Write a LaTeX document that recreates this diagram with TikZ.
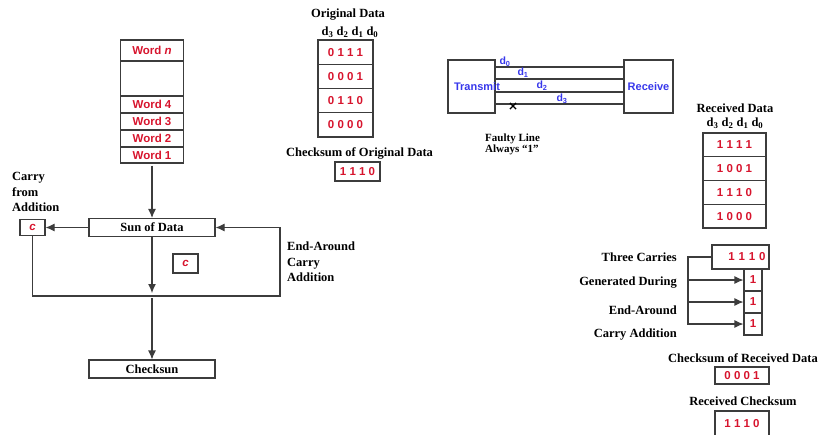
\documentclass[tikz,border=0pt]{standalone}
\usepackage{fontspec}
\setmainfont{Liberation Serif}
\newfontfamily\arialfont{Liberation Sans}
\usetikzlibrary{arrows.meta,shapes.misc}

\definecolor{dred}{RGB}{215,20,45}
\definecolor{dblue}{RGB}{55,55,235}
\definecolor{edgegray}{RGB}{60,60,60}

\tikzset{
  box/.style={draw=edgegray,line width=1.1pt,rectangle,inner sep=0pt},
  wordbox/.style={box,minimum width=63pt,text=dred,font=\arialfont\bfseries\fontsize{11.5}{13}\selectfont},
  lbl/.style={font=\bfseries\fontsize{12.5}{15.5}\selectfont,inner sep=0pt},
  bluelbl/.style={text=dblue,inner sep=0pt,font=\arialfont\bfseries\fontsize{11}{13}\selectfont},
  dlbl/.style={text=dblue,inner sep=0pt,font=\arialfont\bfseries\fontsize{10.5}{12}\selectfont},
  wire/.style={draw=edgegray,line width=1.1pt},
  arr/.style={wire,-{Latex[length=9pt,width=8pt]}},
}

\begin{document}
\begin{tikzpicture}[x=1pt,y=-1pt]
\useasboundingbox (0,0) rectangle (821,434);
\clip (0,0) rectangle (821,434);

% words to be added
\node[wordbox,minimum height=21pt] (wn) at (152,50.5) {Word \textit{n}};
\node[wordbox,minimum height=35pt] (wgap) at (152,78.5) {};
\node[wordbox,minimum height=17pt] (w4) at (152,104.5) {Word 4};
\node[wordbox,minimum height=17pt] (w3) at (152,121.5) {Word 3};
\node[wordbox,minimum height=17pt] (w2) at (152,138.5) {Word 2};
\node[wordbox,minimum height=16pt] (w1) at (152,155) {Word 1};

\node[box,lbl,minimum width=126pt,minimum height=18pt] (sum) at (152,227.5) {Sun of Data};
\node[wordbox,minimum width=25pt,minimum height=16pt] (cl) at (32.5,227.5) {\textit{c}};
\node[wordbox,minimum width=25pt,minimum height=19pt] (cm) at (185.5,263.5) {\textit{c}};
\node[box,lbl,minimum width=126pt,minimum height=18pt] (chk) at (152,369) {Checksun};

\node[lbl,anchor=west,align=left] (carrylbl) at (12,192) {Carry\\from\\Addition};
\node[lbl,anchor=west,align=left] (eacalbl) at (287,262) {End-Around\\Carry\\Addition};

\coordinate (jm) at (152,296);
\coordinate (jr) at (280,296);

\draw [arr,shorten <=2pt] (w1) -- (sum);
\draw [arr] (sum) -- (cl);
\draw [arr] (cl) |- (jr) |- (sum);
\draw [arr,shorten >=3pt] (sum) -- (jm);
\draw [arr,shorten <=2pt] (jm) -- (chk);

% original data
\node[lbl] (odtitle) at (348,15) {Original Data};
\node[lbl] (odbits) at (350,32) {d\textsubscript{3} d\textsubscript{2} d\textsubscript{1} d\textsubscript{0}};
\foreach \b [count=\i] in {0 1 1 1,0 0 0 1,0 1 1 0,0 0 0 0}
  \node[wordbox,minimum width=55pt,minimum height=24.25pt] (od\i) at (345.5,{27.875+24.25*\i}) {\b};
\node[lbl] (ocklbl) at (359.5,153) {Checksum of Original Data};
\node[wordbox,minimum width=45pt,minimum height=19pt] (ock) at (357.5,171.5) {1 1 1 0};

% the link
\node[box,minimum width=47pt,minimum height=53pt] (tx) at (471.5,86.5) {};
\node[bluelbl] (txlbl) at (477,87) {Transmit};
\node[box,bluelbl,minimum width=49pt,minimum height=53pt] (rx) at (648.5,86.5) {Receive};
\foreach \y in {67,79,92,104}
  \draw[wire] (tx.east |- 0,\y) -- (rx.west |- 0,\y);
\node[dlbl] (d0) at (505,62) {d\textsubscript{0}};
\node[dlbl] (d1) at (523,73) {d\textsubscript{1}};
\node[dlbl] (d2) at (542,86) {d\textsubscript{2}};
\node[dlbl] (d3) at (562,99) {d\textsubscript{3}};
\node[cross out,draw=black,line width=1.2pt,minimum size=5pt,inner sep=0pt] (fault) at (513,106) {};
\node[lbl,font=\bfseries\fontsize{11}{11}\selectfont,anchor=west,align=left] (faultlbl) at (485,144) {Faulty Line\\Always ``1''};

% received data
\node[lbl] (rdtitle) at (735,108) {Received Data};
\node[lbl] (rdbits) at (735,123) {d\textsubscript{3} d\textsubscript{2} d\textsubscript{1} d\textsubscript{0}};
\foreach \b [count=\i] in {1 1 1 1,1 0 0 1,1 1 1 0,1 0 0 0}
  \node[wordbox,minimum width=63pt,minimum height=23.75pt] (rd\i) at (734.5,{121.125+23.75*\i}) {\b};

% carries
\node[lbl,anchor=east] (tc1) at (677,257) {Three Carries};
\node[lbl,anchor=east] (tc2) at (677,283) {Generated During};
\node[lbl,anchor=east] (tc3) at (677,310) {End-Around};
\node[lbl,anchor=east] (tc4) at (677,335) {Carry Addition};
\node[wordbox,minimum width=57pt,minimum height=24pt,text width=50pt,align=right] (cs) at (740.5,257) {1 1 1 0};
\foreach \i/\y in {1/280,2/302,3/324}
  \node[wordbox,minimum width=18pt,minimum height=22pt] (one\i) at (753,\y) {1};
\coordinate (brk) at (688,324);
\draw [arr] (cs) -| (brk) -- (one3);
\foreach \i in {1,2}
  \draw [arr] (brk |- one\i) -- (one\i);

\node[lbl] (rcklbl) at (743,358) {Checksum of Received Data};
\node[wordbox,minimum width=54pt,minimum height=17pt] (rck) at (742,375.5) {0 0 0 1};
\node[lbl] (rxcklbl) at (743,401) {Received Checksum};
\node[wordbox,minimum width=54pt,minimum height=26pt] (rxck) at (742,424) {1 1 1 0};

\end{tikzpicture}
\end{document}
